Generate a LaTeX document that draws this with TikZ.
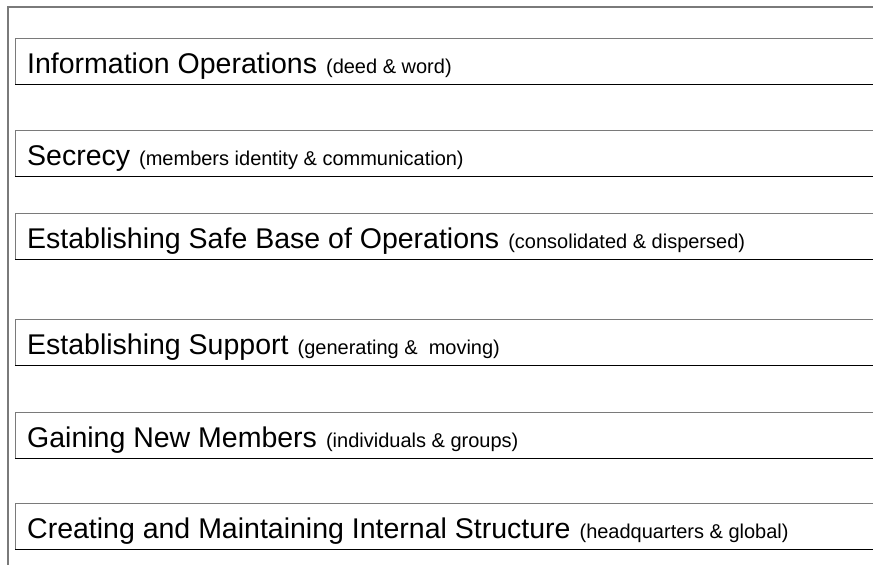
\documentclass[tikz,border=0pt]{standalone}
\usepackage{fontspec}
\setmainfont{Liberation Sans}

\definecolor{edgegray}{HTML}{7A7A7A}
\tikzset{
  frameline/.style={draw=edgegray, line width=2pt},
  boxtop/.style={draw=edgegray, line width=1pt},
  boxbottom/.style={draw=black, line width=1pt},
  caption/.style={anchor=base west, inner sep=0pt},
}
\newcommand{\bigtext}{\fontsize{28.5}{32}\selectfont}
\newcommand{\smalltext}{\fontsize{20}{24}\selectfont}

\begin{document}
\begin{tikzpicture}[x=1pt,y=-1pt,line cap=butt]
  \useasboundingbox (0,0) rectangle (873,565);
  % frame along the top and the left side
  \draw[frameline] (8,566) -- (8,7) -- (880,7);

  % one open box per row, running off to the right
  \foreach \top/\name/\main/\extra in {
      38/info/{Information Operations}/{deed \& word},
      130/secrecy/{Secrecy}/{members identity \& communication},
      213/safebase/{Establishing Safe Base of Operations}/{consolidated \& dispersed},
      319/support/{Establishing Support}/{generating \&\ \ moving},
      412/members/{Gaining New Members}/{individuals \& groups},
      503/structure/{Creating and Maintaining Internal Structure}/{headquarters \& global}}
  {
    \draw[boxtop] (15,\top+46) -- (15,\top) -- (880,\top);
    \draw[boxbottom] (15,\top+46) -- (880,\top+46);
    \node[caption] (\name) at (27,\top+35) {\bigtext\main\hspace{9pt}\smalltext(\extra)};
  }
\end{tikzpicture}
\end{document}
